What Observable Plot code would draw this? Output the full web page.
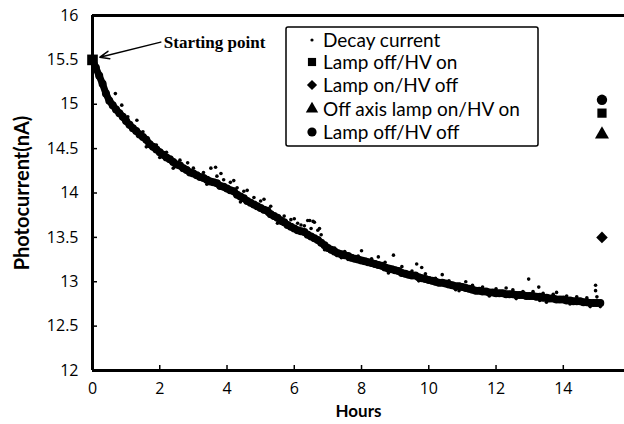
<!DOCTYPE html>
<html>
<head>
<meta charset="utf-8">
<script src="https://cdn.jsdelivr.net/npm/d3@7"></script>
<script src="https://cdn.jsdelivr.net/npm/@observablehq/plot@0.6"></script>
<style>
  html, body { margin: 0; padding: 0; background: #fff; }
  #chart { position: relative; width: 624px; height: 424px; }
</style>
</head>
<body>
<div id="chart"></div>
<script>
// ---- Data ----
const decayHours = d3.range(0, 152).map(i => +(i * 0.1).toFixed(1));
const decayCurrent = [
  15.50,15.41,15.32,15.23,15.12,15.04,14.99,14.94,14.90,14.86,
  14.81,14.77,14.73,14.70,14.66,14.63,14.60,14.55,14.52,14.49,
  14.46,14.43,14.40,14.38,14.35,14.32,14.31,14.28,14.26,14.23,
  14.22,14.20,14.18,14.17,14.15,14.13,14.12,14.11,14.08,14.07,
  14.05,14.03,14.02,13.98,13.96,13.94,13.91,13.89,13.87,13.85,
  13.83,13.81,13.80,13.76,13.74,13.72,13.69,13.67,13.64,13.62,
  13.60,13.58,13.57,13.56,13.53,13.51,13.49,13.47,13.44,13.41,
  13.38,13.36,13.34,13.32,13.31,13.30,13.29,13.27,13.26,13.25,
  13.24,13.23,13.22,13.21,13.20,13.19,13.18,13.16,13.15,13.14,
  13.13,13.12,13.10,13.09,13.08,13.07,13.07,13.05,13.04,13.03,
  13.02,13.01,13.00,12.99,12.99,12.98,12.97,12.96,12.95,12.95,
  12.94,12.93,12.92,12.91,12.90,12.90,12.89,12.89,12.88,12.88,
  12.87,12.87,12.87,12.86,12.86,12.86,12.85,12.85,12.85,12.84,
  12.84,12.84,12.83,12.83,12.82,12.82,12.81,12.81,12.80,12.80,
  12.80,12.79,12.79,12.78,12.78,12.78,12.77,12.77,12.76,12.76,
  12.76,12.76
];
// points scattered around the main band (edges and outliers)
const scatterHours = [
  0.68,0.87,1.32,2.83,3.52,3.66,3.82,4.2,4.6,5.1,6.0,6.1,6.4,6.46,6.56,6.6,6.75,8.0,8.5,8.95,
  9.64,9.79,10.4,11.1,12.3,12.97,13.27,13.8,14.96,14.96,1.6,2.4,5.5,7.6,10.9,13.5,
  0.45,1.05,1.5,1.9,2.2,2.6,3.0,3.3,3.7,3.9,4.1,4.3,4.5,4.8,5.0,5.3,5.7,5.9,6.2,6.3,6.5,6.7,6.8,
  7.2,7.5,7.9,8.3,8.7,9.2,9.5,9.9,10.2,10.6,11.3,11.6,12.0,12.5,12.8,13.1,13.4,13.7,14.1,14.4,14.7,15.0,
  2.0,3.4,4.4,5.2,5.6,6.9,7.4,8.8,9.7,10.8,11.8,12.6,13.3,14.2,14.8,15.1
];
const scatterCurrent = [
  15.12,14.99,14.82,14.34,14.28,14.29,14.22,14.14,14.03,13.93,13.71,13.66,13.69,13.69,13.68,13.67,13.60,13.35,13.28,13.30,
  13.20,13.16,13.08,13.00,12.93,13.03,12.94,12.88,12.96,12.90,14.52,14.28,13.66,13.25,12.90,12.77,
  15.08,14.86,14.69,14.54,14.46,14.37,14.28,14.23,14.19,14.15,14.12,14.06,14.02,13.95,13.91,13.85,13.74,13.70,13.64,13.63,13.60,13.58,13.53,
  13.38,13.34,13.29,13.26,13.22,13.17,13.12,13.09,13.04,13.01,12.96,12.94,12.92,12.91,12.89,12.89,12.87,12.86,12.84,12.83,12.82,12.83,
  14.40,14.10,13.90,13.76,13.66,13.36,13.27,13.10,13.01,12.91,12.84,12.81,12.79,12.75,12.72,12.72
];

const markerNames   = ["Lamp off/HV on","Lamp on/HV off","Off axis lamp on/HV on","Lamp off/HV off"];
const markerSymbols = ["square","diamond2","triangle","circle"];
const markerHours   = [15.15,15.15,15.15,15.15];
const markerCurrent = [14.90,13.50,14.66,15.05];

const startHour = 0, startCurrent = 15.5;

const xTicks = [0,2,4,6,8,10,12,14];
const yTicks = [12,12.5,13,13.5,14,14.5,15,15.5,16];

const legendNames = ["Decay current","Lamp off/HV on","Lamp on/HV off","Off axis lamp on/HV on","Lamp off/HV off"];
const legendSymbols = ["dot","square","diamond2","triangle","circle"];

const annotationText = "Starting point";
const annotation = {textX: 2.12, textY: 15.70, arrowX1: 2.03, arrowY1: 15.70, arrowX2: 0.22, arrowY2: 15.53};

// ---- Build ----
const decay = decayHours.map((h, i) => ({h, v: decayCurrent[i]}));
const scatter = scatterHours.map((h, i) => ({h, v: scatterCurrent[i]}));
const markers = markerNames.map((n, i) => ({n, s: markerSymbols[i], h: markerHours[i], v: markerCurrent[i]}));

const font = "Lato, 'Open Sans', sans-serif";
const tickFont = "'Open Sans', Lato, sans-serif";

const chart = Plot.plot({
  width: 624,
  height: 424,
  marginLeft: 92,
  marginRight: 0,
  marginTop: 15,
  marginBottom: 54,
  style: {fontFamily: font, fontSize: "16px", color: "#000", background: "#fff", overflow: "visible"},
  x: {domain: [0, 15.82]},
  y: {domain: [12, 16]},
  marks: [
    Plot.axisX({ticks: xTicks, tickSize: -5, tickPadding: 17, tickFormat: d => String(d), label: null, strokeWidth: 1.5, fontSize: 16, fontFamily: tickFont}),
    Plot.axisY({ticks: yTicks, tickSize: -5, tickPadding: 19, tickFormat: d => String(d), label: null, strokeWidth: 1.5, fontSize: 16, fontFamily: tickFont}),
    Plot.line(decay, {x: "h", y: "v", stroke: "#000", strokeWidth: 7, curve: "linear"}),
    Plot.dot(decay, {x: "h", y: "v", r: 4, fill: "#000", stroke: null}),
    Plot.dot(scatter, {x: "h", y: "v", r: 1.8, fill: "#000", stroke: null}),
    Plot.dot([{h: startHour, v: startCurrent}], {x: "h", y: "v", symbol: "square", r: 6, fill: "#000"}),
    Plot.dot(markers, {x: "h", y: "v", symbol: "s", r: 5.2, fill: "#000"}),
    Plot.ruleY([12], {stroke: "#000", strokeWidth: 3}),
    Plot.ruleY([16], {stroke: "#000", strokeWidth: 3}),
    Plot.ruleX([0], {stroke: "#000", strokeWidth: 3}),
    Plot.arrow([annotation], {x1: "arrowX1", y1: "arrowY1", x2: "arrowX2", y2: "arrowY2", stroke: "#000", strokeWidth: 1.5, headLength: 10, headAngle: 45}),
    Plot.text([annotation], {x: "textX", y: "textY", text: () => annotationText, textAnchor: "start", fontFamily: "'Liberation Serif', 'DejaVu Serif', serif", fontWeight: "bold", fontSize: 17, fill: "#000"}),
    Plot.text(["Hours"], {frameAnchor: "bottom", dy: 46, text: d => d, fontWeight: "bold", fontSize: 17, fill: "#000"}),
    Plot.text(["Photocurrent(nA)"], {frameAnchor: "left", dx: -70, rotate: -90, textAnchor: "middle", text: d => d, fontWeight: "bold", fontSize: 20, fill: "#000"})
  ]
});

document.getElementById("chart").appendChild(chart);

// Legend box inside the plot
const svg = d3.select(chart);
const lg = svg.append("g").attr("transform", "translate(286,27)");
lg.append("rect").attr("width", 252).attr("height", 119).attr("rx", 2)
  .attr("fill", "#fff").attr("stroke", "#000").attr("stroke-width", 1.5);
const rowY = [13, 35, 58, 82, 105];
legendNames.forEach((name, i) => {
  const g = lg.append("g").attr("transform", `translate(26,${rowY[i]})`);
  if (legendSymbols[i] === "dot") {
    g.append("circle").attr("r", 1.6).attr("fill", "#000");
  } else {
    const sym = {square: d3.symbolSquare, diamond2: d3.symbolDiamond2, triangle: d3.symbolTriangle, circle: d3.symbolCircle}[legendSymbols[i]];
    g.append("path").attr("d", d3.symbol(sym, Math.PI * 4.6 * 4.6)()).attr("fill", "#000");
  }
  lg.append("text").attr("x", 37).attr("y", rowY[i]).attr("dy", "0.35em")
    .attr("text-anchor", "start")
    .attr("font-family", font).attr("font-size", 19).attr("fill", "#000").text(name);
});
</script>
</body>
</html>
